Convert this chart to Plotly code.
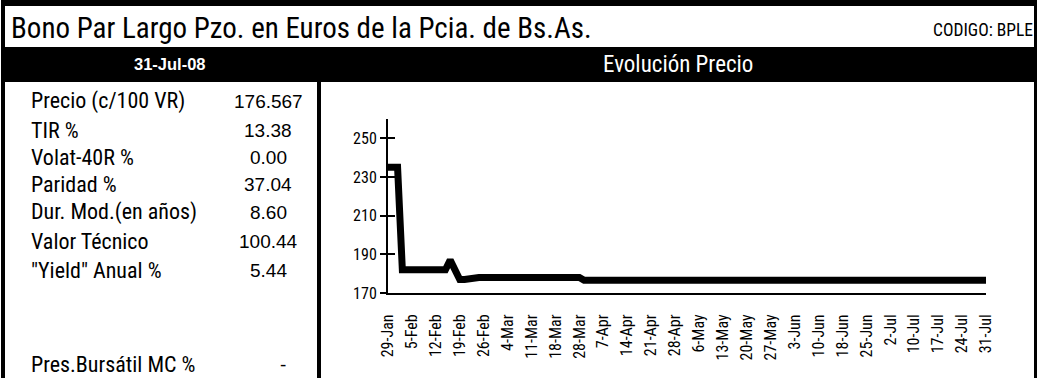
import plotly.graph_objects as go

W, H = 1038, 378

# Daily closing price (c/100 VR), one row per five trading sessions
precio = [
    235, 235, 235, 182, 182,
    182, 182, 182, 182, 182,
    182, 182, 182, 187, 182,
    177, 177, 177.5, 178, 178,
    178, 178, 178, 178, 178,
    178, 178, 178, 178, 178,
    178, 178, 178, 178, 178,
    178, 178, 178, 178, 178,
    178, 176.567, 176.567, 176.567, 176.567,
    176.567, 176.567, 176.567, 176.567, 176.567,
    176.567, 176.567, 176.567, 176.567, 176.567,
    176.567, 176.567, 176.567, 176.567, 176.567,
    176.567, 176.567, 176.567, 176.567, 176.567,
    176.567, 176.567, 176.567, 176.567, 176.567,
    176.567, 176.567, 176.567, 176.567, 176.567,
    176.567, 176.567, 176.567, 176.567, 176.567,
    176.567, 176.567, 176.567, 176.567, 176.567,
    176.567, 176.567, 176.567, 176.567, 176.567,
    176.567, 176.567, 176.567, 176.567, 176.567,
    176.567, 176.567, 176.567, 176.567, 176.567,
    176.567, 176.567, 176.567, 176.567, 176.567,
    176.567, 176.567, 176.567, 176.567, 176.567,
    176.567, 176.567, 176.567, 176.567, 176.567,
    176.567, 176.567, 176.567, 176.567, 176.567,
    176.567, 176.567, 176.567, 176.567, 176.567,
    176.567,
]

# Weekly date labels (every fifth session)
fechas = ["29-Jan", "5-Feb", "12-Feb", "19-Feb", "26-Feb", "4-Mar", "11-Mar",
          "18-Mar", "28-Mar", "7-Apr", "14-Apr", "21-Apr", "28-Apr", "6-May",
          "13-May", "20-May", "27-May", "3-Jun", "10-Jun", "18-Jun", "25-Jun",
          "2-Jul", "10-Jul", "17-Jul", "24-Jul", "31-Jul"]

y_ticks = [170, 190, 210, 230, 250]

# Summary table
indicadores = ["Precio (c/100 VR)", "TIR %", "Volat-40R %", "Paridad %",
               "Dur. Mod.(en años)", "Valor Técnico", "\"Yield\" Anual %",
               "Pres.Bursátil MC %"]
valores = ["176.567", "13.38", "0.00", "37.04", "8.60", "100.44", "5.44", "-"]

titulo = "Bono Par Largo Pzo. en Euros de la Pcia. de Bs.As."
codigo = "CODIGO: BPLE"
fecha_cierre = "31-Jul-08"
subtitulo = "Evolución Precio"

NARROW = "Roboto Condensed, Arial Narrow, sans-serif"
REG = "Liberation Sans, Arial, sans-serif"


def px(x):
    return x / W


def py(y):
    return 1 - y / H


sesiones = list(range(len(precio)))
tick_pos = sesiones[::5]

fig = go.Figure()
fig.add_trace(go.Scatter(
    x=sesiones, y=precio, mode="lines",
    line=dict(color="black", width=7),
    hoverinfo="skip", showlegend=False,
))
# invisible companion trace for the inward half of the y ticks
fig.add_trace(go.Scatter(x=[0], y=[170], yaxis="y2", mode="markers",
                         marker=dict(opacity=0), hoverinfo="skip",
                         showlegend=False))

shapes = []


def rect(x0, y0, x1, y1):
    shapes.append(dict(type="rect", xref="paper", yref="paper",
                       x0=px(x0), x1=px(x1), y0=py(y1), y1=py(y0),
                       fillcolor="black", line=dict(width=0), layer="above"))


rect(1, 0, 1037, 6)        # top border
rect(1, 47, 1037, 82)      # header band
rect(1, 0, 5, H)           # left border
rect(1034, 0, 1037, H)     # right border
rect(317, 82, 321, H)      # column separator

ann = []
ann.append(dict(text=titulo, x=px(9), y=py(28), xanchor="left", yanchor="middle",
                font=dict(family=NARROW, size=29, color="black")))
ann.append(dict(text=codigo, x=px(1035), y=py(30), xanchor="right", yanchor="middle",
                font=dict(family=NARROW, size=17.5, color="black")))
ann.append(dict(text="<b>" + fecha_cierre + "</b>", x=px(170), y=py(64),
                xanchor="center", yanchor="middle",
                font=dict(family=REG, size=16.5, color="white")))
ann.append(dict(text=subtitulo, x=px(678), y=py(64), xanchor="center",
                yanchor="middle", font=dict(family=NARROW, size=23, color="white")))

filas_y = [101, 130, 157, 184, 212, 241, 270, 364]
for lab, val, yy in zip(indicadores, valores, filas_y):
    ann.append(dict(text=lab, x=px(29), y=py(yy), xanchor="left", yanchor="middle",
                    font=dict(family=NARROW, size=22, color="black")))
    ann.append(dict(text=val, x=px(283 if val == "-" else 268), y=py(yy),
                    xanchor="center", yanchor="middle",
                    font=dict(family=REG, size=19, color="black")))

for a in ann:
    a.update(xref="paper", yref="paper", showarrow=False)

xdom = [px(388), px(986)]
ydom = [py(293), py(119)]

fig.update_layout(
    template="none",
    width=W, height=H,
    margin=dict(l=0, r=0, t=0, b=0, pad=0),
    paper_bgcolor="white", plot_bgcolor="white",
    shapes=shapes, annotations=ann,
    xaxis=dict(domain=xdom, range=[0, len(precio) - 1], tickmode="array",
               tickvals=tick_pos, ticktext=fechas, tickangle=-90,
               showline=True, linecolor="black", linewidth=2, ticks="",
               showgrid=False, zeroline=False, ticklabelstandoff=13,
               automargin=False,
               tickfont=dict(family=NARROW, size=16, color="black"),
               fixedrange=True),
    yaxis=dict(domain=ydom, range=[170, 260], tickmode="array", tickvals=y_ticks,
               showline=True, linecolor="black", linewidth=2, ticks="outside",
               ticklen=6, tickwidth=2, tickcolor="black", showgrid=False,
               zeroline=False, automargin=False,
               tickfont=dict(family=NARROW, size=16, color="black"),
               fixedrange=True),
    yaxis2=dict(domain=ydom, range=[170, 260], overlaying="y", anchor="x",
                side="left", tickmode="array", tickvals=y_ticks,
                ticks="inside", ticklen=7, tickwidth=2, tickcolor="black",
                showticklabels=False, showline=False, showgrid=False,
                zeroline=False, automargin=False, fixedrange=True),
)

fig.write_html("out.html")
